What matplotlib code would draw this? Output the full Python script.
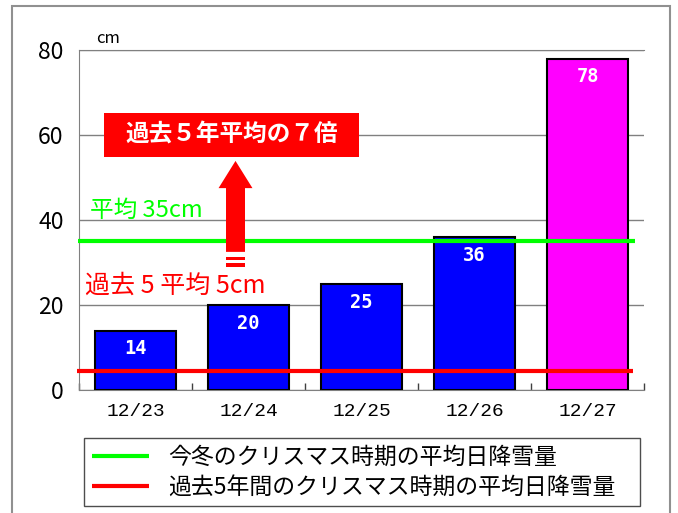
import matplotlib
matplotlib.use("Agg")
import matplotlib.pyplot as plt
from matplotlib.patches import Rectangle, Polygon

plt.rcParams['font.family'] = ['Noto Sans CJK JP', 'DejaVu Sans']

categories = ["12/23", "12/24", "12/25", "12/26", "12/27"]
snowfall = [14, 20, 25, 36, 78]
bar_colors = ["#0000ff", "#0000ff", "#0000ff", "#0000ff", "#ff00ff"]
avg_this_winter = 35
avg_past5 = 4.5
yticks = [0, 20, 40, 60, 80]
legend_labels = ["今冬のクリスマス時期の平均日降雪量", "過去5年間のクリスマス時期の平均日降雪量"]
note_text = "過去５年平均の７倍"
green_text = "平均 35cm"
red_text = "過去 5 平均 5cm"
unit_text = "cm"

W, H = 678, 513
fig = plt.figure(figsize=(W / 100, H / 100), dpi=100)
ax = fig.add_axes([79 / W, 1 - 390 / H, (644 - 79) / W, (390 - 50) / H])

x = list(range(len(categories)))
ax.bar(x, snowfall, width=0.71, color=bar_colors, edgecolor="black",
       linewidth=1.5, zorder=3)
for xi, v in zip(x, snowfall):
    ax.text(xi, v - 4.3, str(v), ha="center", va="center",
            color="white", fontsize=13.5, fontweight="bold", family="DejaVu Sans Mono",
            zorder=5)

ax.set_xlim(-0.5, len(categories) - 0.5)
ax.set_ylim(0, 80)
ax.set_yticks(yticks)
ax.set_yticklabels([str(t) for t in yticks], fontsize=16.5)
ax.yaxis.grid(True, color="#808080", linewidth=1.0, zorder=0)
ax.set_axisbelow(True)
ax.tick_params(axis="y", length=0, pad=11)

# x ticks at category boundaries pointing inward; labels at centers
ax.set_xticks([i + 0.5 for i in range(-1, len(categories))])
ax.set_xticklabels([])
ax.tick_params(axis="x", direction="in", length=5, color="#404040", width=1)
for xi, c in zip(x, categories):
    ax.text(xi, -5.0, c, ha="center", va="center", fontsize=14,
            family=["Liberation Mono", "DejaVu Sans Mono"])

ax.spines["right"].set_visible(False)
for s in ["top", "left", "bottom"]:
    ax.spines[s].set_color("#808080")

# horizontal average lines
g_line, = ax.plot([-0.51, 4.42], [avg_this_winter, avg_this_winter], color="#00ff00",
                  linewidth=3, zorder=4, clip_on=False, solid_capstyle="butt")
r_line, = ax.plot([-0.52, 4.40], [avg_past5, avg_past5], color="#ff0000",
                  linewidth=3, zorder=4, clip_on=False, solid_capstyle="butt")

ax.text(-0.4, 42.3, green_text, color="#00ff00", fontsize=17, va="center", ha="left")
ax.text(-0.45, 24.6, red_text, color="#ff0000", fontsize=18, va="center", ha="left")
ax.text(-0.243, 82.8, unit_text, fontsize=12, ha="center", va="center", clip_on=False)

# annotation box
ax.add_patch(Rectangle((-0.28, 54.8), 2.26, 10.4, facecolor="#ff0000", edgecolor="none", zorder=6))
ax.text(0.85, 60.0, note_text, color="white", fontsize=17, fontweight="bold",
        ha="center", va="center", zorder=7)

# arrow
cx = 0.885
ax.add_patch(Polygon([(cx - 0.15, 47.5), (cx, 53.9), (cx + 0.15, 47.5),
                      (cx + 0.084, 47.5), (cx + 0.084, 32.5),
                      (cx - 0.084, 32.5), (cx - 0.084, 47.5)],
                     closed=True, facecolor="#ff0000", edgecolor="none", zorder=6))
ax.add_patch(Rectangle((cx - 0.084, 30.6), 0.168, 0.75, facecolor="#ff0000", edgecolor="none", zorder=6))
ax.add_patch(Rectangle((cx - 0.084, 29.0), 0.168, 0.85, facecolor="#ff0000", edgecolor="none", zorder=6))

# legend
leg = fig.legend([g_line, r_line], legend_labels, loc="upper left",
                 bbox_to_anchor=(84 / W, 1 - 512 / H, (640 - 84) / W, 74 / H),
                 mode="expand", fontsize=16.5, handlelength=2.5, handletextpad=0.83,
                 labelspacing=0.3, borderpad=0.34, borderaxespad=0, fancybox=False,
                 frameon=True, edgecolor="#202020")
leg.get_frame().set_linewidth(1.0)

# outer frame
fig.add_artist(Rectangle((12 / W, -0.05), (670 - 12) / W, 1.05 - 6 / H, transform=fig.transFigure,
                         facecolor="none", edgecolor="#909090", linewidth=1.5))

fig.savefig("out.png", dpi=100)
